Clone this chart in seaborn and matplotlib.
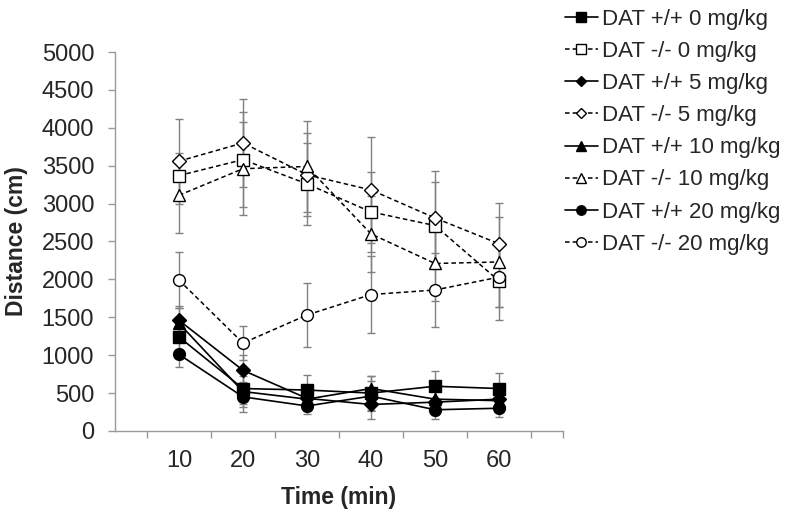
import matplotlib
matplotlib.use("Agg")
import matplotlib.pyplot as plt
import numpy as np
import pandas as pd
import seaborn as sns

# Time points (min)
times = [10, 20, 30, 40, 50, 60]

labels = [
    "DAT +/+ 0 mg/kg", "DAT -/- 0 mg/kg",
    "DAT +/+ 5 mg/kg", "DAT -/- 5 mg/kg",
    "DAT +/+ 10 mg/kg", "DAT -/- 10 mg/kg",
    "DAT +/+ 20 mg/kg", "DAT -/- 20 mg/kg",
]

# Mean distance (cm)
wt_0 = [1240, 560, 540, 500, 590, 560]
ko_0 = [3370, 3580, 3260, 2890, 2710, 1980]
wt_5 = [1460, 800, 430, 350, 380, 420]
ko_5 = [3560, 3800, 3380, 3180, 2810, 2470]
wt_10 = [1420, 520, 420, 560, 420, 400]
ko_10 = [3110, 3460, 3490, 2600, 2210, 2230]
wt_20 = [1010, 450, 330, 460, 280, 300]
ko_20 = [1990, 1160, 1530, 1800, 1860, 2030]

# Error (SEM), estimated
wt_0_err = [220, 200, 200, 220, 200, 210]
ko_0_err = [300, 630, 540, 530, 570, 520]
wt_5_err = [190, 200, 150, 190, 170, 150]
ko_5_err = [560, 580, 550, 700, 620, 540]
wt_10_err = [200, 200, 150, 170, 160, 150]
ko_10_err = [500, 610, 600, 500, 500, 590]
wt_20_err = [170, 200, 110, 200, 120, 120]
ko_20_err = [370, 230, 420, 510, 490, 400]

means = [wt_0, ko_0, wt_5, ko_5, wt_10, ko_10, wt_20, ko_20]
errs = [wt_0_err, ko_0_err, wt_5_err, ko_5_err, wt_10_err, ko_10_err, wt_20_err, ko_20_err]
markers = ["s", "s", "D", "D", "^", "^", "o", "o"]
msizes = [8.5, 8.5, 7, 7, 9, 9, 8.5, 8.5]

sns.set_theme(style="white")
plt.rcParams["font.family"] = ["Liberation Sans", "DejaVu Sans"]

fig = plt.figure(figsize=(7.85, 5.19), dpi=100)
ax = fig.add_axes([0.1465, 0.1696, 0.5707, 0.7302])

# error bars first (grey, behind the lines)
for m, e in zip(means, errs):
    ax.errorbar(times, m, yerr=e, fmt="none", ecolor="#808080",
                elinewidth=1, capsize=3, capthick=1, zorder=1)

for i, (lab, m) in enumerate(zip(labels, means)):
    wt = i % 2 == 0
    df = pd.DataFrame({"Time": times, "Distance": m})
    sns.lineplot(
        data=df, x="Time", y="Distance", ax=ax,
        color="black",
        linestyle="-" if wt else (0, (3, 2)),
        linewidth=1.2 if wt else 1.1,
        marker=markers[i], markersize=msizes[i],
        markerfacecolor="black" if wt else "white",
        markeredgecolor="black", markeredgewidth=1.0,
        label=lab, zorder=3,
    )

ax.set_xlim(0, 70)
ax.set_ylim(0, 5000)
ax.set_yticks(np.arange(0, 5001, 500))
ax.set_xticks(times)
ax.set_xticks([5, 15, 25, 35, 45, 55, 65, 70], minor=True)

for side in ["top", "right"]:
    ax.spines[side].set_visible(False)
for side in ["left", "bottom"]:
    ax.spines[side].set_color("#9a9a9a")
    ax.spines[side].set_linewidth(1.0)

ax.tick_params(axis="y", which="major", direction="out", length=5,
               color="#9a9a9a", width=1, pad=10, labelsize=17, left=True)
ax.tick_params(axis="x", which="major", length=0, pad=14, labelsize=17,
               bottom=True)
ax.tick_params(axis="x", which="minor", direction="out", length=5,
               color="#9a9a9a", width=1, bottom=True)

ax.set_xlabel("Time (min)", fontsize=16.5, fontweight="bold", labelpad=10)
ax.set_ylabel("Distance (cm)", fontsize=16.5, fontweight="bold")
ax.yaxis.set_label_coords(-0.195, 0.5)

ax.legend(loc="upper left", bbox_to_anchor=(0.708, 1.0),
          bbox_transform=fig.transFigure, frameon=False, fontsize=16,
          handlelength=1.5, handletextpad=0.2, labelspacing=0.5,
          markerscale=0.8, borderaxespad=0)

fig.savefig("out.png", dpi=100)
